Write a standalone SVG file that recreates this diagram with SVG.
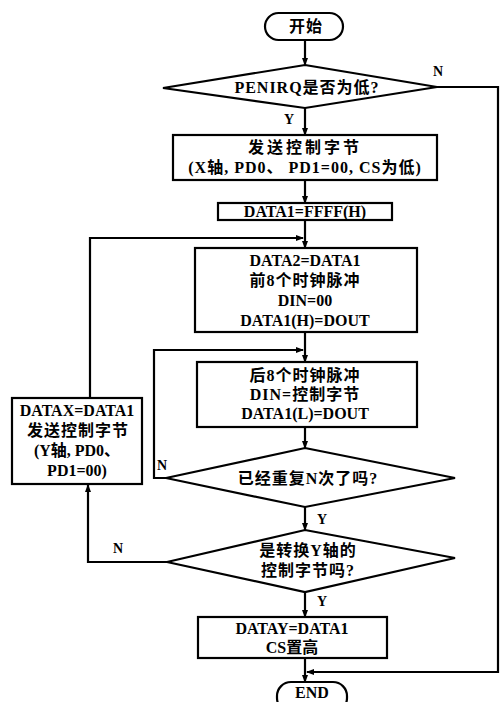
<svg xmlns="http://www.w3.org/2000/svg" width="504" height="702" viewBox="0 0 504 702">
<style>
.s{fill:#fff;stroke:#000;stroke-width:2.2}
.c{fill:none;stroke:#000;stroke-width:2.2}
text{font-family:"Liberation Serif","Noto Sans CJK SC",serif;font-size:16px;font-weight:bold;fill:#000;text-anchor:middle}
.l{font-size:14px}
.w{letter-spacing:3px}
.m{letter-spacing:1px}
</style>
<defs>
<marker id="a" markerWidth="8" markerHeight="8" refX="7" refY="4" orient="auto" markerUnits="userSpaceOnUse">
<path d="M0,1 L8,4 L0,7 Z" fill="#000"/>
</marker>
</defs>
<rect width="504" height="702" fill="#fff"/>
<g id="connectors">
<line class="c" x1="305" y1="40" x2="305" y2="65" marker-end="url(#a)"/>
<line class="c" x1="305" y1="108" x2="305" y2="135" marker-end="url(#a)"/>
<line class="c" x1="305" y1="180" x2="305" y2="203" marker-end="url(#a)"/>
<line class="c" x1="305" y1="220" x2="305" y2="248" marker-end="url(#a)"/>
<line class="c" x1="305" y1="332" x2="305" y2="362" marker-end="url(#a)"/>
<line class="c" x1="305" y1="427" x2="305" y2="448" marker-end="url(#a)"/>
<line class="c" x1="305" y1="507" x2="305" y2="530" marker-end="url(#a)"/>
<line class="c" x1="305" y1="592" x2="305" y2="617" marker-end="url(#a)"/>
<line class="c" x1="305" y1="658" x2="305" y2="682" marker-end="url(#a)"/>
<polyline class="c" points="437,87 498,87 498,672 307,672" marker-end="url(#a)"/>
<polyline class="c" points="166,478 154,478 154,350 303,350" marker-end="url(#a)"/>
<polyline class="c" points="167,562 88,562 88,485" marker-end="url(#a)"/>
<polyline class="c" points="90,398 90,238 303,238" marker-end="url(#a)"/>
<text class="l" x="438" y="76">N</text>
<text class="l" x="289" y="124">Y</text>
<text class="l" x="162" y="470">N</text>
<text class="l" x="322" y="524">Y</text>
<text class="l" x="118" y="553">N</text>
<text class="l" x="322" y="606">Y</text>
</g>
<g id="start">
<rect class="s" x="265" y="13" width="78" height="27" rx="13.5"/>
<text x="306" y="32" class="m" font-size="17">开始</text>
</g>
<g id="d1">
<polygon class="s" points="305,65 437,87 305,108 163,88"/>
<text x="307" y="93" class="m">PENIRQ是否为低?</text>
</g>
<g id="b1">
<rect class="s" x="173" y="135" width="264" height="45"/>
<text x="305" y="153" class="w">发送控制字节</text>
<text x="305" y="173" class="m">(X轴, PD0、 PD1=00, CS为低)</text>
</g>
<g id="b2">
<rect class="s" x="218" y="203" width="174" height="17"/>
<text x="305" y="217">DATA1=FFFF(H)</text>
</g>
<g id="b3">
<rect class="s" x="195" y="248" width="222" height="84"/>
<text x="305" y="266">DATA2=DATA1</text>
<text x="305" y="286" class="m">前8个时钟脉冲</text>
<text x="305" y="306">DIN=00</text>
<text x="305" y="326">DATA1(H)=DOUT</text>
</g>
<g id="b4">
<rect class="s" x="197" y="362" width="220" height="65"/>
<text x="305" y="381" class="m">后8个时钟脉冲</text>
<text x="305" y="400" class="m">DIN=控制字节</text>
<text x="305" y="419">DATA1(L)=DOUT</text>
</g>
<g id="d2">
<polygon class="s" points="305,448 455,478 305,507 166,478"/>
<text x="308" y="484" class="m">已经重复N次了吗?</text>
</g>
<g id="bx">
<rect class="s" x="12" y="398" width="130" height="86"/>
<text x="77" y="416">DATAX=DATA1</text>
<text x="78" y="436" class="m">发送控制字节</text>
<text x="77" y="456">(Y轴, PD0、</text>
<text x="77" y="476">PD1=00)</text>
</g>
<g id="d3">
<polygon class="s" points="305,530 455,558 305,592 167,562"/>
<text x="308" y="556" class="m">是转换Y轴的</text>
<text x="308" y="576" class="m">控制字节吗?</text>
</g>
<g id="b5">
<rect class="s" x="198" y="617" width="189" height="41"/>
<text x="292" y="634">DATAY=DATA1</text>
<text x="292" y="653">CS置高</text>
</g>
<g id="end">
<rect class="s" x="277" y="682" width="70" height="30" rx="14"/>
<text x="312" y="698">END</text>
</g>
</svg>
